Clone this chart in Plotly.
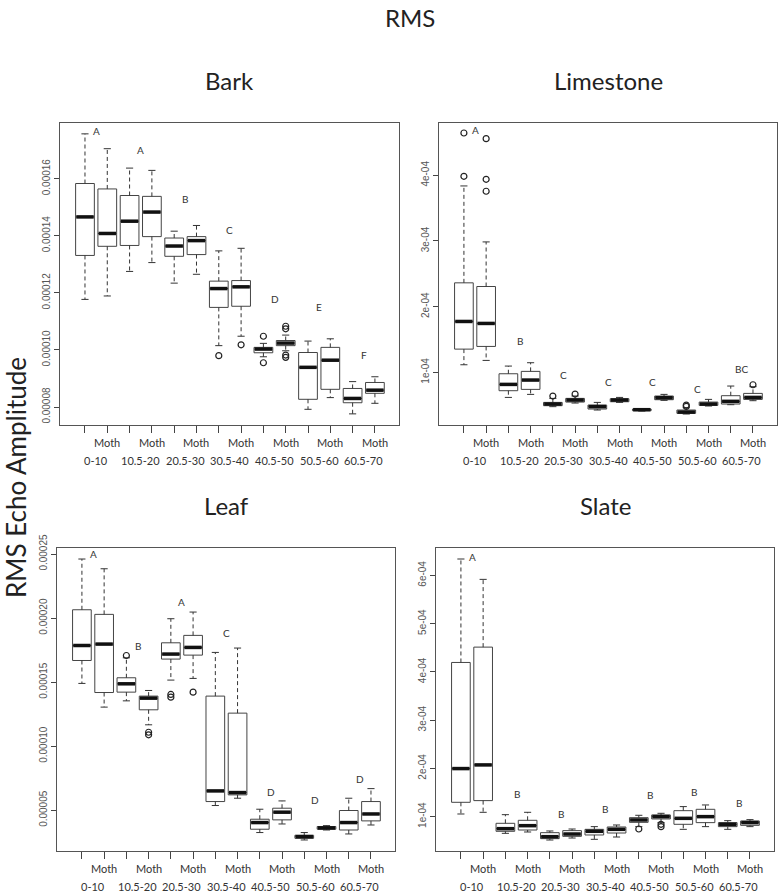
import plotly.graph_objects as go

# --- data (RMS echo amplitude boxplots) ---
positions = list(range(1, 15))
moth_labels = ["", "Moth"] * 7
range_labels = ["0-10", "10.5-20", "20.5-30", "30.5-40", "40.5-50", "50.5-60", "60.5-70"]
pair_mid = [1.5, 3.5, 5.5, 7.5, 9.5, 11.5, 13.5]

# Bark
bark_upper = [1.757e-4, 1.705e-4, 1.637e-4, 1.629e-4, 1.416e-4, 1.436e-4, 1.347e-4, 1.356e-4, 1.023e-4, 1.052e-4, 1.031e-4, 1.039e-4, 0.889e-4, 0.906e-4]
bark_q3 = [1.583e-4, 1.564e-4, 1.541e-4, 1.538e-4, 1.392e-4, 1.397e-4, 1.241e-4, 1.243e-4, 1.009e-4, 1.033e-4, 0.991e-4, 1.009e-4, 0.865e-4, 0.886e-4]
bark_med = [1.466e-4, 1.408e-4, 1.451e-4, 1.483e-4, 1.364e-4, 1.383e-4, 1.215e-4, 1.221e-4, 1.003e-4, 1.024e-4, 0.939e-4, 0.964e-4, 0.830e-4, 0.859e-4]
bark_q1 = [1.331e-4, 1.363e-4, 1.366e-4, 1.397e-4, 1.328e-4, 1.334e-4, 1.149e-4, 1.153e-4, 0.990e-4, 1.015e-4, 0.827e-4, 0.862e-4, 0.815e-4, 0.848e-4]
bark_lower = [1.177e-4, 1.189e-4, 1.275e-4, 1.306e-4, 1.234e-4, 1.265e-4, 1.015e-4, 1.048e-4, 0.976e-4, 0.997e-4, 0.792e-4, 0.833e-4, 0.776e-4, 0.813e-4]
bark_out = [[], [], [], [], [], [], [0.980e-4], [1.018e-4], [1.048e-4, 0.955e-4], [1.083e-4, 1.074e-4, 0.982e-4, 0.974e-4], [], [], [], []]
bark_letters = ["A", "A", "B", "C", "D", "E", "F"]
bark_letter_y = [1.766e-4, 1.699e-4, 1.528e-4, 1.419e-4, 1.177e-4, 1.151e-4, 0.984e-4]

# Limestone
lime_upper = [3.838e-4, 2.986e-4, 1.096e-4, 1.147e-4, 0.604e-4, 0.640e-4, 0.543e-4, 0.619e-4, 0.447e-4, 0.665e-4, 0.462e-4, 0.589e-4, 0.792e-4, 0.782e-4]
lime_q3 = [2.363e-4, 2.307e-4, 0.979e-4, 1.015e-4, 0.543e-4, 0.604e-4, 0.503e-4, 0.599e-4, 0.442e-4, 0.640e-4, 0.427e-4, 0.548e-4, 0.645e-4, 0.680e-4]
lime_med = [1.775e-4, 1.745e-4, 0.817e-4, 0.883e-4, 0.518e-4, 0.579e-4, 0.478e-4, 0.579e-4, 0.432e-4, 0.614e-4, 0.396e-4, 0.518e-4, 0.559e-4, 0.619e-4]
lime_q1 = [1.354e-4, 1.395e-4, 0.721e-4, 0.741e-4, 0.493e-4, 0.548e-4, 0.442e-4, 0.553e-4, 0.417e-4, 0.584e-4, 0.376e-4, 0.498e-4, 0.518e-4, 0.589e-4]
lime_lower = [1.116e-4, 1.182e-4, 0.619e-4, 0.665e-4, 0.478e-4, 0.533e-4, 0.427e-4, 0.543e-4, 0.411e-4, 0.574e-4, 0.366e-4, 0.488e-4, 0.508e-4, 0.569e-4]
lime_out = [[4.644e-4, 3.985e-4], [4.558e-4, 3.939e-4, 3.757e-4], [], [], [0.640e-4], [0.670e-4], [], [], [], [], [0.503e-4, 0.483e-4], [], [], [0.812e-4]]
lime_letters = ["A", "B", "C", "C", "C", "C", "BC"]
lime_letter_y = [4.694e-4, 1.481e-4, 0.959e-4, 0.858e-4, 0.858e-4, 0.741e-4, 1.055e-4]

# Leaf
leaf_upper = [2.461e-4, 2.385e-4, 1.690e-4, 1.435e-4, 1.995e-4, 2.047e-4, 1.732e-4, 1.766e-4, 0.508e-4, 0.573e-4, 0.326e-4, 0.380e-4, 0.594e-4, 0.669e-4]
leaf_q3 = [2.065e-4, 2.029e-4, 1.534e-4, 1.391e-4, 1.807e-4, 1.865e-4, 1.391e-4, 1.258e-4, 0.430e-4, 0.516e-4, 0.305e-4, 0.373e-4, 0.498e-4, 0.568e-4]
leaf_med = [1.786e-4, 1.797e-4, 1.487e-4, 1.375e-4, 1.719e-4, 1.771e-4, 0.651e-4, 0.638e-4, 0.404e-4, 0.485e-4, 0.294e-4, 0.362e-4, 0.404e-4, 0.471e-4]
leaf_q1 = [1.669e-4, 1.419e-4, 1.422e-4, 1.284e-4, 1.680e-4, 1.711e-4, 0.568e-4, 0.620e-4, 0.352e-4, 0.425e-4, 0.281e-4, 0.352e-4, 0.346e-4, 0.417e-4]
leaf_lower = [1.490e-4, 1.305e-4, 1.354e-4, 1.167e-4, 1.516e-4, 1.529e-4, 0.537e-4, 0.594e-4, 0.326e-4, 0.393e-4, 0.268e-4, 0.346e-4, 0.315e-4, 0.385e-4]
leaf_out = [[], [], [1.708e-4], [1.109e-4, 1.089e-4], [1.404e-4, 1.383e-4], [1.422e-4], [], [], [], [], [], [], [], []]
leaf_letters = ["A", "B", "A", "C", "D", "D", "D"]
leaf_letter_y = [2.500e-4, 1.784e-4, 2.122e-4, 1.883e-4, 0.641e-4, 0.583e-4, 0.745e-4]

# Slate
slate_upper = [6.339e-4, 5.917e-4, 1.041e-4, 1.090e-4, 0.703e-4, 0.744e-4, 0.793e-4, 0.827e-4, 1.028e-4, 1.069e-4, 1.208e-4, 1.242e-4, 0.917e-4, 0.938e-4]
slate_q3 = [4.195e-4, 4.513e-4, 0.862e-4, 0.924e-4, 0.668e-4, 0.710e-4, 0.737e-4, 0.786e-4, 0.979e-4, 1.035e-4, 1.124e-4, 1.152e-4, 0.876e-4, 0.910e-4]
slate_med = [1.996e-4, 2.072e-4, 0.751e-4, 0.813e-4, 0.585e-4, 0.640e-4, 0.696e-4, 0.737e-4, 0.931e-4, 1.000e-4, 0.965e-4, 1.000e-4, 0.841e-4, 0.876e-4]
slate_q1 = [1.297e-4, 1.332e-4, 0.696e-4, 0.723e-4, 0.544e-4, 0.592e-4, 0.620e-4, 0.661e-4, 0.882e-4, 0.952e-4, 0.841e-4, 0.876e-4, 0.793e-4, 0.820e-4]
slate_lower = [1.055e-4, 1.090e-4, 0.654e-4, 0.682e-4, 0.516e-4, 0.557e-4, 0.530e-4, 0.578e-4, 0.793e-4, 0.876e-4, 0.737e-4, 0.793e-4, 0.737e-4, 0.793e-4]
slate_out = [[], [], [], [], [], [], [], [], [0.744e-4], [0.841e-4, 0.793e-4], [], [], [], []]
slate_letters = ["A", "B", "B", "B", "B", "B", "B"]
slate_letter_y = [6.373e-4, 1.470e-4, 1.055e-4, 1.152e-4, 1.443e-4, 1.519e-4, 1.291e-4]

bark_ticks = [0.00008, 0.00010, 0.00012, 0.00014, 0.00016]
bark_ticktext = ["0.00008", "0.00010", "0.00012", "0.00014", "0.00016"]
lime_ticks = [1e-4, 2e-4, 3e-4, 4e-4]
lime_ticktext = ["1e-04", "2e-04", "3e-04", "4e-04"]
leaf_ticks = [0.00005, 0.00010, 0.00015, 0.00020, 0.00025]
leaf_ticktext = ["0.00005", "0.00010", "0.00015", "0.00020", "0.00025"]
slate_ticks = [1e-4, 2e-4, 3e-4, 4e-4, 5e-4, 6e-4]
slate_ticktext = ["1e-04", "2e-04", "3e-04", "4e-04", "5e-04", "6e-04"]

W, H = 778, 892
FONT = "Lato"
BOX_W = 0.84
CAP_W = 0.32


def px_x(v):
    return v / W


def px_y(v):
    return 1 - v / H


panels = [
    dict(name="Bark", ax="", up=bark_upper, q3=bark_q3, med=bark_med, q1=bark_q1, lo=bark_lower,
         out=bark_out, let=bark_letters, let_y=bark_letter_y, yr=[0.0000737, 0.0001795],
         tv=bark_ticks, tt=bark_ticktext, px=(60, 123, 399, 425)),
    dict(name="Limestone", ax="2", up=lime_upper, q3=lime_q3, med=lime_med, q1=lime_q1, lo=lime_lower,
         out=lime_out, let=lime_letters, let_y=lime_letter_y, yr=[0.199e-4, 4.796e-4],
         tv=lime_ticks, tt=lime_ticktext, px=(439, 123, 777, 425)),
    dict(name="Leaf", ax="3", up=leaf_upper, q3=leaf_q3, med=leaf_med, q1=leaf_q1, lo=leaf_lower,
         out=leaf_out, let=leaf_letters, let_y=leaf_letter_y, yr=[0.0000182, 0.0002547],
         tv=leaf_ticks, tt=leaf_ticktext, px=(57, 548, 395, 851)),
    dict(name="Slate", ax="4", up=slate_upper, q3=slate_q3, med=slate_med, q1=slate_q1, lo=slate_lower,
         out=slate_out, let=slate_letters, let_y=slate_letter_y, yr=[0.288e-4, 6.567e-4],
         tv=slate_ticks, tt=slate_ticktext, px=(436, 548, 774, 851)),
]

fig = go.Figure()
annotations = []
layout = {}

for p in panels:
    xa, ya = "x" + p["ax"], "y" + p["ax"]
    # dashed whiskers
    wx, wy = [], []
    for i, pos in enumerate(positions):
        wx += [pos, pos, None, pos, pos, None]
        wy += [p["q3"][i], p["up"][i], None, p["q1"][i], p["lo"][i], None]
    fig.add_trace(go.Scatter(x=wx, y=wy, mode="lines", xaxis=xa, yaxis=ya, showlegend=False,
                             line=dict(color="#333", width=1, dash="4px,3px"), hoverinfo="skip"))
    # caps
    cx, cy = [], []
    for i, pos in enumerate(positions):
        cx += [pos - CAP_W / 2, pos + CAP_W / 2, None, pos - CAP_W / 2, pos + CAP_W / 2, None]
        cy += [p["up"][i], p["up"][i], None, p["lo"][i], p["lo"][i], None]
    fig.add_trace(go.Scatter(x=cx, y=cy, mode="lines", xaxis=xa, yaxis=ya, showlegend=False,
                             line=dict(color="#333", width=1), hoverinfo="skip"))
    # boxes
    fig.add_trace(go.Box(x=positions, q1=p["q1"], median=p["med"], q3=p["q3"],
                         lowerfence=p["q1"], upperfence=p["q3"], width=BOX_W,
                         fillcolor="white", line=dict(color="#444", width=1),
                         whiskerwidth=0, boxpoints=False, xaxis=xa, yaxis=ya, showlegend=False))
    # thick medians
    mx, my = [], []
    for i, pos in enumerate(positions):
        mx += [pos - BOX_W / 2 + 0.03, pos + BOX_W / 2 - 0.03, None]
        my += [p["med"][i], p["med"][i], None]
    fig.add_trace(go.Scatter(x=mx, y=my, mode="lines", xaxis=xa, yaxis=ya, showlegend=False,
                             line=dict(color="#111", width=3.5), hoverinfo="skip"))
    # outliers
    ox, oy = [], []
    for i, pos in enumerate(positions):
        for v in p["out"][i]:
            ox.append(pos)
            oy.append(v)
    fig.add_trace(go.Scatter(x=ox, y=oy, mode="markers", xaxis=xa, yaxis=ya, showlegend=False,
                             marker=dict(symbol="circle-open", size=6, color="#222", line=dict(width=1.2))))

    left, top, right, bottom = p["px"]
    ph = bottom - top
    layout["xaxis" + p["ax"]] = dict(
        domain=[px_x(left), px_x(right)], anchor=ya, range=[-0.12, 15.08],
        tickvals=positions, showticklabels=False, ticks="outside", ticklen=7,
        tickcolor="#444", showgrid=False, zeroline=False, automargin=False,
        showline=True, mirror=True, linecolor="#555", linewidth=1.2)
    layout["yaxis" + p["ax"]] = dict(
        domain=[px_y(bottom), px_y(top)], anchor=xa, range=p["yr"],
        tickvals=p["tv"], ticktext=p["tt"], tickangle=-90, ticks="outside", ticklen=5,
        tickcolor="#444", tickfont=dict(family="Liberation Sans", size=10, color="#555"),
        showgrid=False, zeroline=False, automargin=False,
        showline=True, mirror=True, linecolor="#555", linewidth=1.2)

    # panel title
    annotations.append(dict(text=p["name"], x=px_x((left + right) / 2), y=px_y(top - 43),
                            xref="paper", yref="paper", showarrow=False,
                            xanchor="center", yanchor="middle",
                            font=dict(family=FONT, size=24, color="#222")))
    # significance letters
    for m, t, v in zip(pair_mid, p["let"], p["let_y"]):
        annotations.append(dict(text=t, x=m, y=v, xref=xa, yref=ya, showarrow=False,
                                xanchor="center", yanchor="middle",
                                font=dict(family=FONT, size=10, color="#333")))
    # x labels
    for pos, t in zip(positions, moth_labels):
        if t:
            annotations.append(dict(text=t, x=pos, y=-17 / ph, xref=xa, yref=ya + " domain",
                                    showarrow=False, xanchor="center", yanchor="middle",
                                    font=dict(family=FONT, size=11, color="#333")))
    for m, t in zip(pair_mid, range_labels):
        annotations.append(dict(text=t, x=m, y=-35 / ph, xref=xa, yref=ya + " domain",
                                showarrow=False, xanchor="center", yanchor="middle",
                                font=dict(family=FONT, size=11, color="#333")))

annotations.append(dict(text="RMS", x=px_x(410), y=px_y(17), xref="paper", yref="paper",
                        showarrow=False, xanchor="center", yanchor="middle",
                        font=dict(family=FONT, size=24, color="#222")))
annotations.append(dict(text="RMS Echo Amplitude", x=px_x(16), y=px_y(478), xref="paper",
                        yref="paper", showarrow=False, textangle=-90,
                        xanchor="center", yanchor="middle",
                        font=dict(family=FONT, size=26, color="#222")))

fig.update_layout(
    width=W, height=H, margin=dict(l=0, r=0, t=0, b=0),
    plot_bgcolor="white", paper_bgcolor="white",
    annotations=annotations, **layout)

# the page's default 8px body margin would shift the figure; drop it
fig.write_html("out.html", config={"displayModeBar": False},
               post_script="document.body.style.margin='0';")
